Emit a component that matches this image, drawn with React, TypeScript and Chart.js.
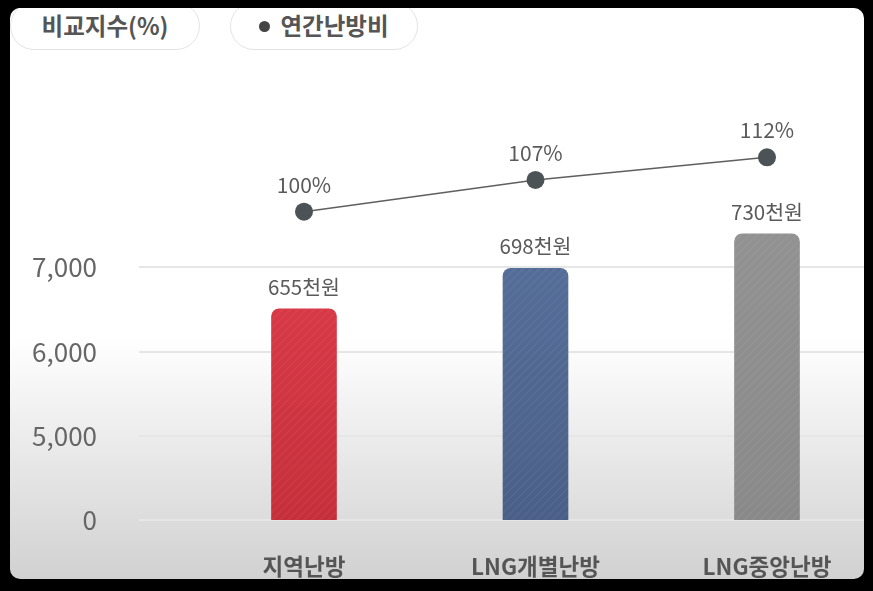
import React, { useEffect, useRef } from "react";
import { Chart, registerables } from "chart.js";

Chart.register(...registerables);

// ---- data ----
const categories = ["지역난방", "LNG개별난방", "LNG중앙난방"];
const costValues = [6510, 6990, 7400]; // bar heights as read against the (broken) axis
const costLabels = ["655천원", "698천원", "730천원"];
const indexValues = [100, 107, 112]; // 비교지수(%)
const yTickValues = [4000, 5000, 6000, 7000];
const yTickLabels = ["0", "5,000", "6,000", "7,000"];
const barColorsTop = ["#de3c4a", "#56709b", "#929292"];
const barColorsBottom = ["#c52f3a", "#4a5f87", "#898989"];

const FONT = "'Noto Sans CJK KR', 'Noto Sans', sans-serif";

function makeBarFill(
  ctx: CanvasRenderingContext2D,
  top: string,
  bottom: string
): CanvasPattern | string {
  const w = 8;
  const h = 600;
  const tile = document.createElement("canvas");
  tile.width = w;
  tile.height = h;
  const c = tile.getContext("2d");
  if (!c) return top;
  const g = c.createLinearGradient(0, 230, 0, 520);
  g.addColorStop(0, top);
  g.addColorStop(1, bottom);
  c.fillStyle = g;
  c.fillRect(0, 0, w, h);
  c.strokeStyle = "rgba(255,255,255,0.045)";
  c.lineWidth = 2;
  for (let k = -h; k <= w + h; k += w) {
    c.beginPath();
    c.moveTo(k, h);
    c.lineTo(k + h, 0);
    c.stroke();
  }
  const p = ctx.createPattern(tile, "repeat");
  return p || top;
}

const valueLabelPlugin = {
  id: "valueLabels",
  afterDatasetsDraw(chart: any) {
    const ctx: CanvasRenderingContext2D = chart.ctx;
    ctx.save();
    ctx.textAlign = "center";
    ctx.textBaseline = "middle";
    ctx.fillStyle = "#5a5a5a";
    chart.data.datasets.forEach((ds: any, di: number) => {
      const meta = chart.getDatasetMeta(di);
      meta.data.forEach((el: any, i: number) => {
        if (ds.type === "bar") {
          ctx.font = `20.5px ${FONT}`;
          ctx.fillText(costLabels[i], el.x, el.y - 22);
        } else {
          ctx.font = `21px ${FONT}`;
          ctx.fillText(`${indexValues[i]}%`, el.x, el.y - 27);
        }
      });
    });
    ctx.restore();
  },
};

export default function App() {
  const ref = useRef<HTMLCanvasElement>(null);

  useEffect(() => {
    const canvas = ref.current;
    if (!canvas) return;
    const ctx = canvas.getContext("2d");
    if (!ctx) return;

    const fills = categories.map((_, i) =>
      makeBarFill(ctx, barColorsTop[i], barColorsBottom[i])
    );

    const chart = new Chart(ctx, {
      type: "bar",
      data: {
        datasets: [
          {
            type: "line",
            label: "연간난방비",
            data: categories.map((_, i) => ({ x: i, y: indexValues[i] })),
            yAxisID: "y2",
            xAxisID: "x",
            borderColor: "#5f5f5f",
            borderWidth: 1.5,
            pointRadius: 9,
            pointHoverRadius: 9,
            pointBackgroundColor: "#4b5357",
            pointBorderColor: "#4b5357",
            pointBorderWidth: 0,
            tension: 0,
            order: 0,
          } as any,
          {
            type: "bar",
            label: "비교지수",
            data: categories.map((_, i) => ({ x: i, y: costValues[i] })),
            yAxisID: "y",
            xAxisID: "x",
            backgroundColor: fills as any,
            barThickness: 65,
            borderRadius: { topLeft: 8, topRight: 8, bottomLeft: 0, bottomRight: 0 },
            borderSkipped: "bottom",
            order: 1,
          } as any,
        ],
      },
      options: {
        responsive: false,
        animation: false,
        devicePixelRatio: 1,
        layout: { padding: { left: 0, top: 58, right: 9, bottom: 0 } },
        plugins: {
          legend: { display: false },
          tooltip: { enabled: false },
        },
        scales: {
          x: {
            type: "linear",
            offset: false,
            min: -0.7127,
            max: 2.419,
            grid: { display: false, drawTicks: false, offset: false },
            border: { display: false },
            afterBuildTicks: (scale: any) => {
              scale.ticks = categories.map((_, i) => ({ value: i }));
            },
            afterFit: (scale: any) => {
              scale.height = 71;
            },
            ticks: {
              autoSkip: false,
              maxRotation: 0,
              padding: 33,
              color: "#555555",
              font: { family: FONT, size: 22.5, weight: "bold" },
              callback: (v: any) => categories[Number(v)] ?? "",
            },
          },
          y: {
            type: "linear",
            position: "left",
            min: 4000,
            max: 9489,
            grid: { color: "#e6e6e6", lineWidth: 2, drawTicks: false },
            border: { display: false },
            afterBuildTicks: (scale: any) => {
              scale.ticks = yTickValues.map((v) => ({ value: v }));
            },
            afterFit: (scale: any) => {
              scale.width = 139;
            },
            ticks: {
              padding: 42,
              color: "#666666",
              font: { family: FONT, size: 26 },
              callback: (v: any) => {
                const idx = yTickValues.indexOf(Number(v));
                return idx >= 0 ? yTickLabels[idx] : "";
              },
            },
          },
          y2: {
            type: "linear",
            display: false,
            min: 32,
            max: 133.9,
          },
        },
      } as any,
      plugins: [valueLabelPlugin],
    });

    return () => chart.destroy();
  }, []);

  const pillBase: React.CSSProperties = {
    position: "absolute",
    top: -6,
    height: 48,
    boxSizing: "border-box",
    border: "1.5px solid #e3e3e3",
    borderRadius: 24,
    background: "#ffffff",
    display: "flex",
    alignItems: "center",
    justifyContent: "center",
    fontFamily: FONT,
    fontWeight: 700,
    fontSize: 23.5,
    color: "#555555",
    lineHeight: 1,
  };

  return (
    <div
      style={{
        position: "fixed",
        left: 0,
        top: 0,
        width: 873,
        height: 591,
        background: "#000000",
        overflow: "hidden",
      }}
    >
      <div
        style={{
          position: "absolute",
          left: 10,
          top: 8,
          width: 854,
          height: 571,
          borderRadius: 10,
          overflow: "hidden",
          background:
            "linear-gradient(180deg, #ffffff 0px, #ffffff 330px, #d1d1d1 571px)",
        }}
      >
        <div style={{ ...pillBase, left: 0, width: 190 }}>비교지수(%)</div>
        <div style={{ ...pillBase, left: 220, width: 188 }}>
          <span
            style={{
              display: "inline-block",
              width: 11,
              height: 11,
              borderRadius: "50%",
              background: "#444444",
              marginRight: 10,
            }}
          />
          연간난방비
        </div>
      </div>
      <canvas
        ref={ref}
        width={873}
        height={591}
        style={{ position: "absolute", left: 0, top: 0, width: 873, height: 591 }}
      />
    </div>
  );
}
